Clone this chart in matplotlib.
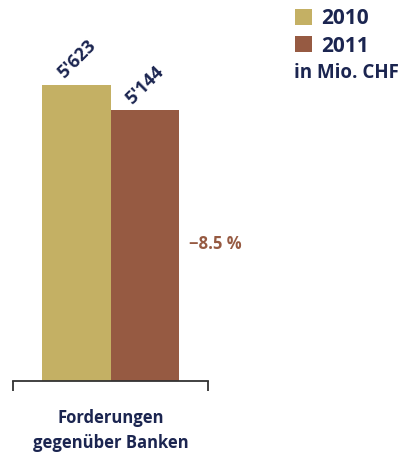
import matplotlib.pyplot as plt
from matplotlib.patches import Patch

years = ['2010', '2011']
values = [5623, 5144]
value_labels = ["5'623", "5'144"]
category = 'Forderungen\ngegenüber Banken'
change_label = '\u22128.5 %'
unit_label = 'in Mio. CHF'

navy = '#1b2550'
colors = ['#c4b064', '#965a42']

plt.rcParams['font.family'] = ['Open Sans', 'DejaVu Sans']

fig = plt.figure(figsize=(4.11, 4.53), dpi=100)
W, H = 411, 453
# axes: x 13..208 px, baseline at y=381, top at y=65
ax = fig.add_axes([13 / W, (H - 381) / H, 195 / W, (381 - 65) / H])

width = 0.35
offsets = [-width / 2, width / 2]
for off, v, c, lab in zip(offsets, values, colors, value_labels):
    ax.bar(off, v, width=width, color=c, linewidth=0)
    ax.text(off, v + 50, lab, rotation=45, ha='center', va='bottom',
            fontsize=13, fontweight='bold', color=navy)

ax.set_xlim(-0.5, 0.5)
ax.set_ylim(0, 6000)
for s in ['top', 'right', 'left']:
    ax.spines[s].set_visible(False)
ax.spines['bottom'].set_color('#333333')
ax.spines['bottom'].set_linewidth(1.3)
ax.set_yticks([])
ax.set_xticks([-0.5, 0.5])
ax.set_xticklabels([])
ax.tick_params(axis='x', direction='out', length=7, width=1.3, color='#333333')

# relative change next to the 2011 bar
ax.text(0.405, 2600, change_label, ha='left', va='center',
        fontsize=12, fontweight='bold', color=colors[1])

# category label below the axis
ax.text(0, -0.09, category, transform=ax.get_xaxis_transform(),
        ha='center', va='top', fontsize=12, fontweight='bold',
        color=navy, linespacing=1.45)

handles = [Patch(facecolor=c, edgecolor='none') for c in colors]
leg = fig.legend(handles, years, loc='upper left',
                 bbox_to_anchor=(287 / W, 1 - 0 / H), frameon=False,
                 handlelength=0.8, handleheight=0.8, handletextpad=0.45,
                 labelspacing=0.3, borderaxespad=0,
                 prop={'size': 15, 'weight': 'bold'})
for t in leg.get_texts():
    t.set_color(navy)

fig.text(294 / W, 1 - 73 / H, unit_label, ha='left', va='center',
         fontsize=13.5, fontweight='bold', color=navy)

fig.savefig('out.png', dpi=100)
